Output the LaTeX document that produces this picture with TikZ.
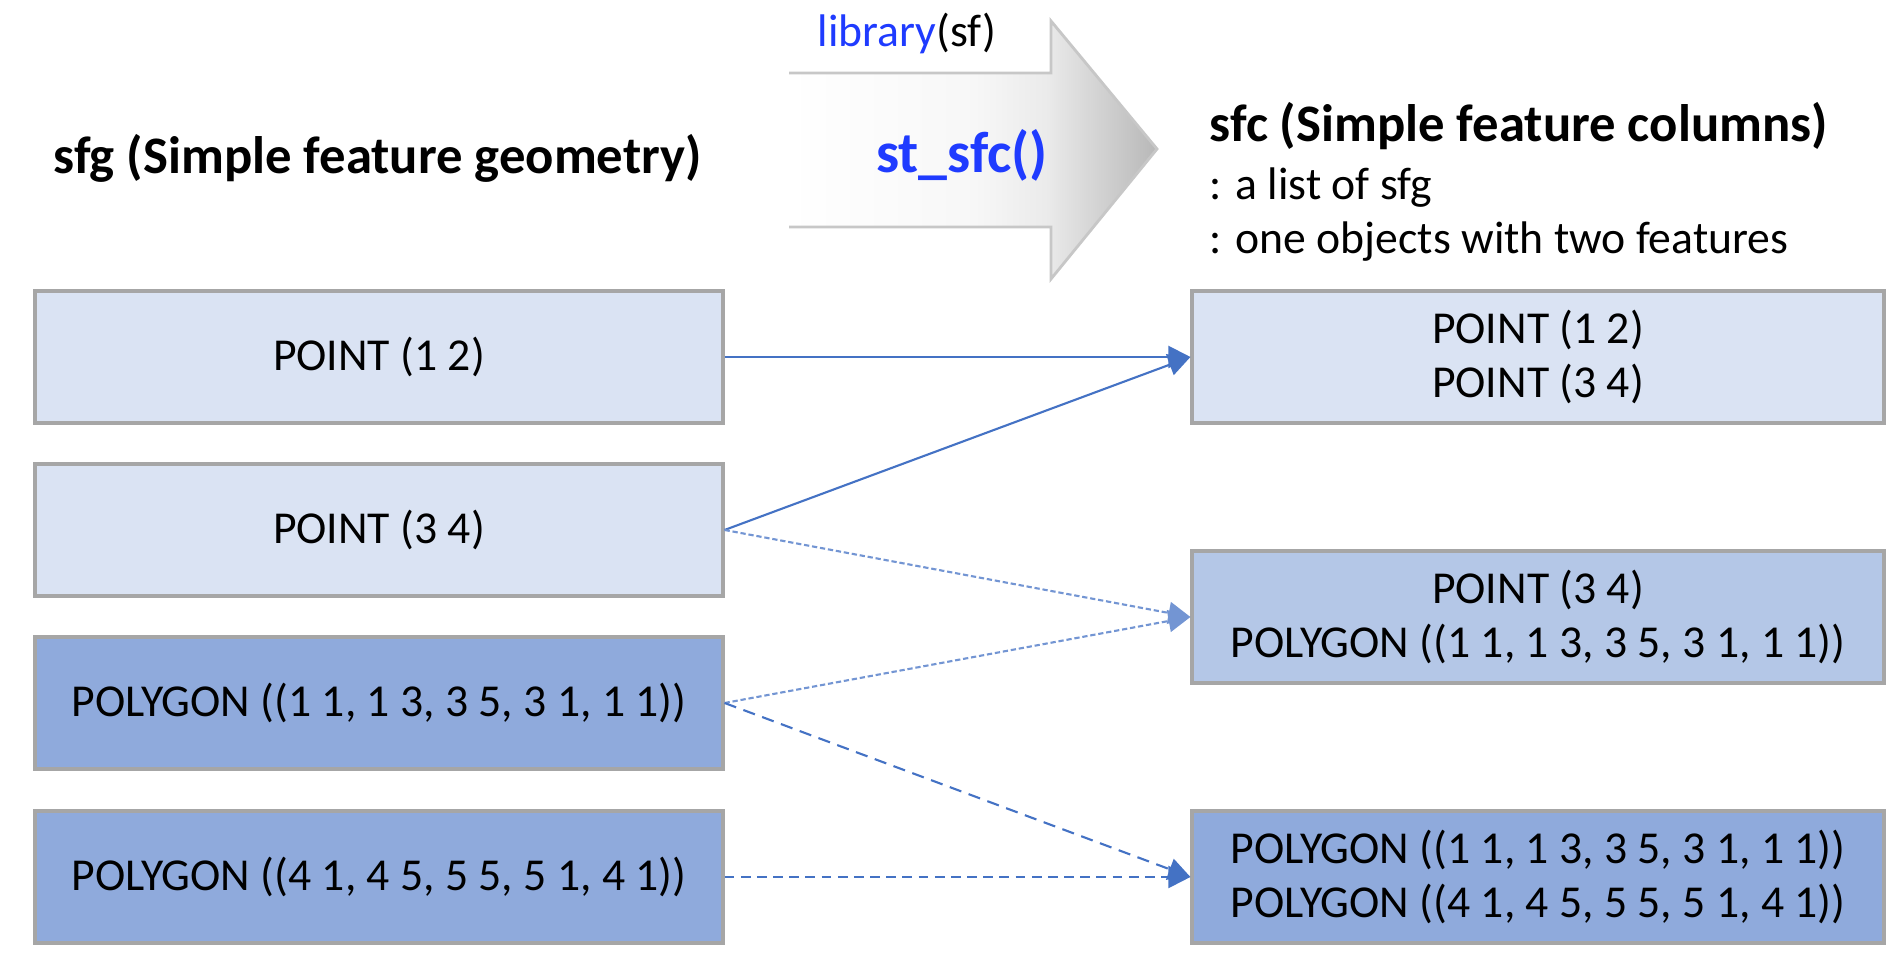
\documentclass[tikz,border=0pt]{standalone}
\usepackage{fontspec}
\setmainfont{Carlito}
\usetikzlibrary{arrows.meta,positioning}

\definecolor{lightfill}{HTML}{DAE3F3}
\definecolor{midfill}{HTML}{B4C7E7}
\definecolor{darkfill}{HTML}{8FAADC}
\definecolor{boxedge}{HTML}{A6A6A6}
\definecolor{linkblue}{HTML}{4472C4}
\definecolor{codeblue}{HTML}{1F3BFF}

\pgfdeclarehorizontalshading{arrowfade}{100bp}{color(0bp)=(white); color(25bp)=(white); color(50bp)=(black!3); color(60bp)=(black!8); color(75bp)=(black!28); color(100bp)=(black!28)}

\begin{document}
\begin{tikzpicture}[
    geom/.style={rectangle, draw=boxedge, line width=0.9pt, minimum width=6.88cm, minimum height=1.32cm, font=\fontsize{13}{15.5}\selectfont, align=center},
    column/.style={geom, minimum width=6.92cm},
    title/.style={anchor=west, inner sep=0pt, font=\fontsize{15}{18}\selectfont\bfseries},
    note/.style={anchor=west, inner sep=0pt, font=\fontsize{13}{15.5}\selectfont},
    link/.style={-{Triangle[length=2.2mm,width=2.2mm]}, linkblue, line width=0.6pt},
    faint/.style={link, linkblue!75, dash pattern=on 1.5pt off 0.8pt},
    broken/.style={link, dash pattern=on 3.5pt off 2.2pt}
]
\useasboundingbox (0,0) rectangle (19,9.62);

% Conversion arrow
\shade[shading=arrowfade]
    (7.89,8.89) -- (10.51,8.89) -- (10.51,9.41) -- (11.57,8.13) -- (10.51,6.83) -- (10.51,7.35) -- (7.89,7.35) -- cycle;
\draw[black!22, line width=0.8pt]
    (7.89,8.89) -- (10.51,8.89) -- (10.51,9.41) -- (11.57,8.13) -- (10.51,6.83) -- (10.51,7.35) -- (7.89,7.35);
\node[font=\fontsize{13}{15.5}\selectfont] (lib) at (9.07,9.29) {\textcolor{codeblue}{library}(sf)};
\node[font=\fontsize{16.5}{19}\selectfont\bfseries, text=codeblue] (fn) at (9.62,8.07) {st\_sfc()};

% Headings
\node[title] (sfgtitle) at (0.53,8.04) {sfg (Simple feature geometry)};
\node[title] (sfctitle) at (12.09,8.36) {sfc (Simple feature columns)};
\node[note] (note1) at (12.09,7.74) {: a list of sfg};
\node[note] (note2) at (12.09,7.20) {: one objects with two features};

% Geometries
\node[geom, fill=lightfill] (g1) at (3.79,6.05) {POINT (1 2)};
\node[geom, fill=lightfill] (g2) at (3.79,4.32) {POINT (3 4)};
\node[geom, fill=darkfill] (g3) at (3.79,2.59) {POLYGON ((1 1, 1 3, 3 5, 3 1, 1 1))};
\node[geom, fill=darkfill] (g4) at (3.79,0.85) {POLYGON ((4 1, 4 5, 5 5, 5 1, 4 1))};

% Columns
\node[column, fill=lightfill] (c1) at (15.38,6.05) {POINT (1 2)\\POINT (3 4)};
\node[column, fill=midfill] (c2) at (15.38,3.45) {POINT (3 4)\\POLYGON ((1 1, 1 3, 3 5, 3 1, 1 1))};
\node[column, fill=darkfill] (c3) at (15.38,0.85) {POLYGON ((1 1, 1 3, 3 5, 3 1, 1 1))\\POLYGON ((4 1, 4 5, 5 5, 5 1, 4 1))};

% Links
\draw[link] (g1.east) -- (c1.west);
\draw[link] (g2.east) -- (c1.west);
\draw[faint] (g2.east) -- (c2.west);
\draw[faint] (g3.east) -- (c2.west);
\draw[broken] (g3.east) -- (c3.west);
\draw[broken, dash pattern=on 2.8pt off 1.8pt] (g4.east) -- (c3.west);

\end{tikzpicture}
\end{document}
